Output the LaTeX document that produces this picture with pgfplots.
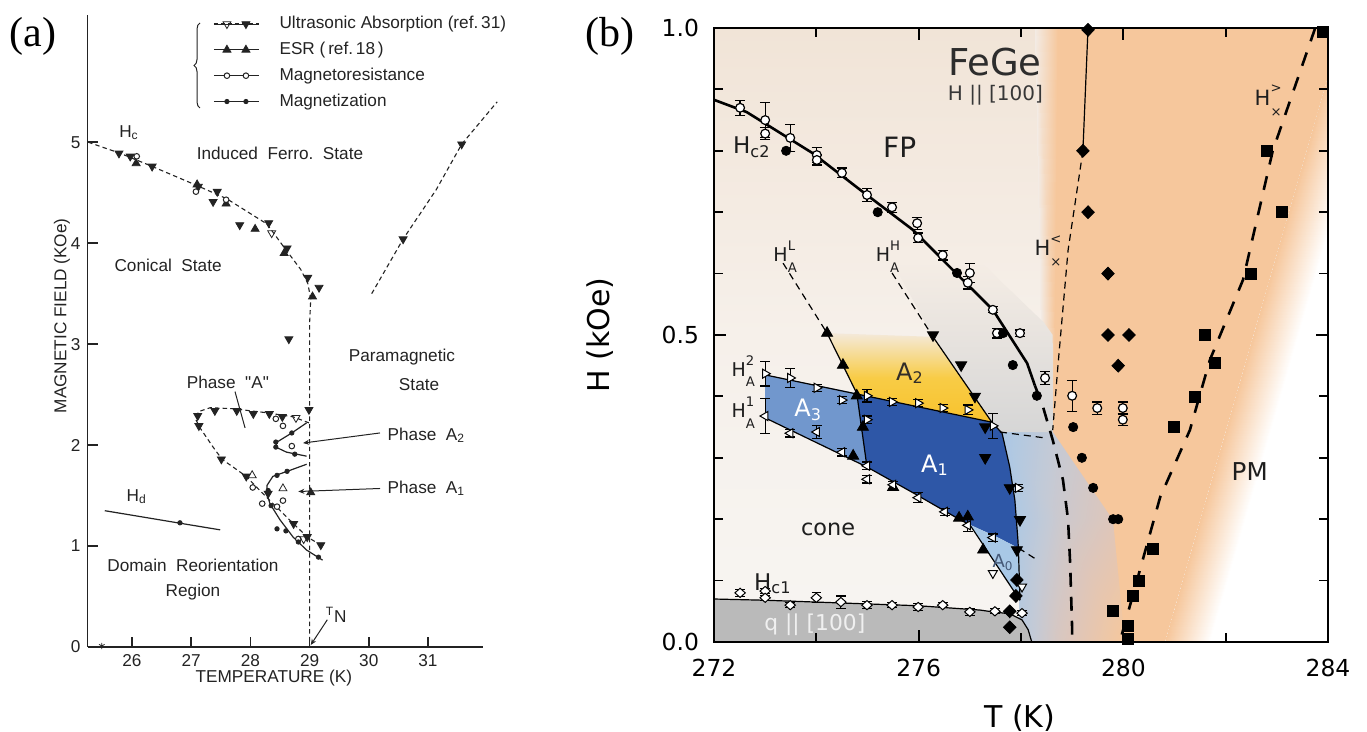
\documentclass[border=0pt]{standalone}
\usepackage{fontspec}
\setmainfont{Liberation Serif}
\newfontfamily\djv{DejaVu Sans}
\newfontfamily\hvf{Liberation Sans}
\usepackage{pgfplots}
\pgfplotsset{compat=1.18}
\usetikzlibrary{decorations.pathreplacing,arrows.meta}
\definecolor{bgtop}{RGB}{241,228,215}
\definecolor{bgmid}{RGB}{246,240,234}
\definecolor{bgbot}{RGB}{247,245,242}
\definecolor{orng}{RGB}{246,199,156}
\definecolor{aTHREE}{RGB}{113,151,205}
\definecolor{aONE}{RGB}{46,87,167}
\definecolor{aZERO}{RGB}{168,200,230}
\definecolor{ayel}{RGB}{248,194,44}
\definecolor{ayelmid}{RGB}{248,204,70}
\definecolor{ayeltop}{RGB}{244,233,218}
\definecolor{qgray}{RGB}{186,186,186}
\definecolor{graytop}{RGB}{245,237,229}
\definecolor{graybot}{RGB}{214,214,214}
\definecolor{ink}{RGB}{35,35,35}
\definecolor{txt}{RGB}{30,30,30}
\newcommand{\HS}[2]{H\begin{tabular}{@{}l@{}}{\fontsize{6.6}{6.6}\selectfont #1}\\[-0.3pt]{\fontsize{6.6}{6.6}\selectfont #2}\end{tabular}}
\begin{document}
\begin{tikzpicture}
\path[use as bounding box] (0,0) rectangle (683.5pt,366pt);
\node[font=\fontsize{21}{24}\selectfont] at (16.5pt,348pt) {(a)};
\node[font=\fontsize{21}{24}\selectfont] at (305pt,348pt) {(b)};
\draw[ink, line width=0.5pt, decorate, decoration={brace, amplitude=3pt}] (100pt,312pt) -- (100pt,354.5pt);

% ---------------- panel (a)
\begin{axis}[
 at={(43.8pt,42.5pt)}, anchor=south west, scale only axis, width=197.7pt, height=316pt,
 xmin=25.25, xmax=31.93, ymin=0, ymax=6.26,
 axis x line*=bottom, axis y line*=left,
 xtick={26,27,28,29,30,31}, ytick={0,1,2,3,4,5},
 tick align=inside, major tick length=5pt,
 axis line style={line width=0.8pt, ink}, every tick/.style={line width=0.8pt, ink},
 tick label style={font=\hvf\fontsize{8.6}{10}\selectfont, /pgf/number format/assume math mode=true, text=ink},
 clip=false,
 xlabel={TEMPERATURE (K)}, ylabel={MAGNETIC FIELD (KOe)},
 label style={font=\hvf\fontsize{8.6}{10}\selectfont, text=ink},
 xlabel style={at={(axis description cs:0.471,-0.049)}, anchor=center},
 ylabel style={at={(axis description cs:-0.065,0.524)}, anchor=center},
 legend style={at={(axis description cs:0.317,1.005)}, anchor=north west, draw=none, fill=none, inner sep=0pt,
   font=\hvf\fontsize{8.6}{10}\selectfont, text=ink, row sep=1.2pt, /tikz/every odd column/.append style={column sep=8pt}},
 legend cell align=left,
]
% H_c dashed
\addplot[ink, line width=0.55pt, dash pattern=on 2.2pt off 1.6pt, forget plot] coordinates {(25.26,5.0) (25.8,4.89) (26.3,4.77) (27.1,4.57) (27.6,4.44) (28.28,4.19) (28.58,3.95) (28.85,3.74) (28.97,3.6) (29.02,3.45) (29.0,3.2) (29.0,0)};
% upper right dashed
\addplot[ink, line width=0.55pt, dash pattern=on 2.2pt off 1.6pt, forget plot] coordinates {(30.05,3.50) (30.58,4.04) (31.14,4.53) (31.57,4.98) (32.17,5.40)};
% phase A loop
\addplot[ink, line width=0.55pt, dash pattern=on 2.2pt off 1.6pt, forget plot] coordinates {(28.99,2.22) (28.72,2.28) (28.28,2.32) (27.71,2.36) (27.32,2.37) (27.12,2.33) (27.08,2.25) (27.15,2.17) (27.37,1.98) (27.52,1.86) (27.93,1.69) (28.21,1.52) (28.73,1.22) (28.96,1.09) (29.19,1.01)};
% A2, A1, Hd solid
\addplot[ink, line width=0.6pt, forget plot] coordinates {(28.95,2.22) (28.70,2.12) (28.45,2.03) (28.43,1.98) (28.61,1.93) (28.95,1.89)};
\addplot[ink, line width=0.6pt, forget plot] coordinates {(28.95,1.81) (28.67,1.75) (28.38,1.69) (28.28,1.60) (28.28,1.52) (28.33,1.42) (28.50,1.26) (28.72,1.09) (28.95,0.96) (29.22,0.86)};
\addplot[ink, line width=0.6pt, forget plot] coordinates {(25.54,1.35) (27.49,1.16)};
% markers with legend
\addplot[only marks, ink, mark=triangle*, mark size=2.3pt, mark options={rotate=180, fill=ink},
 legend image code/.code={\path (0pt,0pt) -- (22.5pt,0pt);
 \draw[ink, line width=0.5pt, dash pattern=on 2pt off 1.5pt] (0pt,0pt)--(22.5pt,0pt);
 \draw[ink, only marks, mark=triangle, mark size=2.3pt, mark options={rotate=180, fill=white, solid}] plot coordinates {(6.5pt,0pt)};
 \draw[ink, only marks, mark=triangle*, mark size=2.3pt, mark options={rotate=180, fill=ink, solid}] plot coordinates {(16pt,0pt)};}]
 coordinates {(25.78,4.89) (25.97,4.86) (26.34,4.76) (27.12,4.56) (27.44,4.51) (27.37,4.41) (27.82,4.18) (28.31,4.20) (28.62,3.95) (28.97,3.66) (29.16,3.56) (28.65,3.05) (30.58,4.04) (31.57,4.98) (27.11,2.29) (27.13,2.19) (27.40,2.34) (27.77,2.34) (28.05,2.31) (28.32,2.31) (28.54,2.28) (28.99,2.35) (27.51,1.86) (27.93,1.69) (28.73,1.22) (28.96,1.09) (29.19,1.01) (28.30,1.52)};
\addlegendentry{Ultrasonic Absorption (ref.\,31)}
\addplot[only marks, ink, mark=triangle*, mark size=2.3pt, mark options={fill=ink},
 legend image code/.code={\path (0pt,0pt) -- (22.5pt,0pt); \draw[ink, only marks, mark=triangle*, mark size=2.3pt, mark options={fill=ink}] plot coordinates {(6.5pt,0pt) (16pt,0pt)};}]
 coordinates {(26.07,4.79) (27.1,4.58) (27.59,4.39) (28.08,4.14) (28.57,3.90) (29.05,3.47) (29.02,1.53)};
\addlegendentry{ESR\ (\,ref.\,18\,)}
\addplot[only marks, ink, mark=*, mark size=1.4pt, mark options={fill=white, line width=0.5pt},
 legend image code/.code={\path (0pt,0pt) -- (22.5pt,0pt); \draw[ink, only marks, mark=*, mark size=1.4pt, mark options={fill=white, line width=0.5pt}] plot coordinates {(6.5pt,0pt) (16pt,0pt)};}]
 coordinates {(26.08,4.86) (27.08,4.51) (27.59,4.43) (28.43,2.26) (28.55,2.19) (28.70,1.99) (28.04,1.58) (28.55,1.45) (28.20,1.42) (28.45,1.39) (28.81,1.07)};
\addlegendentry{Magnetoresistance}
\addplot[only marks, ink, mark=*, mark size=1.1pt, mark options={fill=ink},
 legend image code/.code={\draw[ink, line width=0.6pt] (0pt,0pt)--(22.5pt,0pt); \draw[ink, only marks, mark=*, mark size=1.1pt, mark options={fill=ink}] plot coordinates {(6.5pt,0pt) (16pt,0pt)};}]
 coordinates {(28.70,2.12) (28.43,2.03) (28.43,1.98) (28.75,1.91) (28.62,1.74) (28.45,1.70) (28.30,1.55) (28.35,1.40) (28.45,1.17) (28.6,1.15) (28.81,1.04) (29.15,0.89) (26.81,1.23)};
\addlegendentry{Magnetization}
% extra open symbols
\addplot[only marks, ink, mark=triangle, mark size=2.3pt, mark options={rotate=180, fill=white}, forget plot] coordinates {(28.77,2.27) (28.36,4.10) (28.9,1.07)};
\addplot[only marks, ink, mark=triangle, mark size=2.3pt, mark options={fill=white}, forget plot] coordinates {(28.03,1.70) (28.55,1.57)};
\addplot[only marks, ink, mark=asterisk, mark size=1.6pt, forget plot] coordinates {(25.49,0.01)};
% annotations
\draw[ink, line width=0.5pt] (axis cs:27.74,2.53) -- (axis cs:27.91,2.17);
\draw[ink, line width=0.5pt, -{Stealth[length=3pt,width=2.5pt]}] (axis cs:30.19,2.12) -- (axis cs:28.89,2.02);
\draw[ink, line width=0.5pt, -{Stealth[length=3pt,width=2.5pt]}] (axis cs:30.19,1.57) -- (axis cs:28.81,1.54);
\draw[ink, line width=0.5pt, -{Stealth[length=3pt,width=2.5pt]}] (axis cs:29.30,0.27) -- (axis cs:29.02,0.02);
\begin{scope}[every node/.style={font=\hvf\fontsize{8.6}{10}\selectfont, text=ink}]
\node at (axis cs:25.95,5.09) {H\textsubscript{c}};
\node at (axis cs:28.50,4.89) {Induced\ \ Ferro.\ \ State};
\node at (axis cs:26.61,3.78) {Conical\ \ State};
\node at (axis cs:30.56,2.87) {Paramagnetic};
\node at (axis cs:30.85,2.60) {State};
\node at (axis cs:27.62,2.62) {Phase\ \ "A"};
\node[anchor=west] at (axis cs:30.2,2.10) {Phase\ \ A\textsubscript{2}};
\node[anchor=west] at (axis cs:30.2,1.57) {Phase\ \ A\textsubscript{1}};
\node at (axis cs:26.08,1.49) {H\textsubscript{d}};
\node at (axis cs:27.03,0.81) {Domain\ \ Reorientation};
\node at (axis cs:27.03,0.54) {Region};
\node at (axis cs:29.45,0.32) {\textsuperscript{T}N};
\end{scope}
\end{axis}

% ---------------- panel (b)
\begin{axis}[
 at={(357pt,45pt)}, anchor=south west, scale only axis, width=307pt, height=307pt,
 xmin=272, xmax=284, ymin=0, ymax=1,
 xtick={272,276,280,284}, minor xtick={274,278,282},
 ytick={0,0.5,1}, minor ytick={0.1,0.2,0.3,0.4,0.6,0.7,0.8,0.9},
 tick align=inside, major tick length=6pt, minor tick length=4.5pt,
 axis line style={line width=1pt}, every tick/.style={line width=0.9pt, black},
 tick label style={font=\djv\fontsize{11.7}{13}\selectfont, /pgf/number format/assume math mode=true},
 xticklabel style={yshift=-5pt},
 yticklabel style={xshift=-4pt, /pgf/number format/.cd, fixed, fixed zerofill, precision=1},
 xlabel={T (K)}, ylabel={H (kOe)},
 label style={font=\djv\fontsize{15}{17}\selectfont},
 xlabel style={at={(axis description cs:0.498,-0.124)}, anchor=center},
 ylabel style={at={(axis description cs:-0.186,0.5)}, anchor=center},
 point meta min=0, point meta max=4,
 axis on top,
 axis background/.style={shade, top color=bgtop, bottom color=bgbot, middle color=bgmid},
]
% background patches
\addplot[patch, shader=interp, point meta=explicit,
 colormap={bgm}{rgb255=(170,200,230) rgb255=(196,202,214) rgb255=(222,198,186) rgb255=(246,199,156) rgb255=(255,255,255)}]
 table[x=x, y=y, meta=c] {
x y c
277.589 0.342 0
278.625 0.342 1
278.762 0.199 1.3
277.589 0.342 0
278.762 0.199 1.3
277.90 0.199 0.2
278.625 0.342 1
279.798 0.199 2
278.762 0.199 1.3
277.90 0.199 0.2
278.762 0.199 1.3
278.762 0.0 1.8
277.90 0.199 0.2
278.762 0.0 1.8
277.98 0.0 0.6
278.762 0.199 1.3
279.798 0.199 2
280.032 0.0 3
278.762 0.199 1.3
280.032 0.0 3
278.762 0.0 1.8
280.814 0.0 3
281.693 0.0 4
285.152 1.0 4
280.814 0.0 3
285.152 1.0 4
284.273 1.0 3
};
\addplot[patch, shader=interp, point meta=explicit,
 colormap={bgo}{rgb255=(243,235,228) rgb255=(246,199,156)}]
 table[x=x, y=y, meta=c] {
x y c
278.27 1.0 0
278.72 1.0 4
278.66 0.5 4
278.27 1.0 0
278.66 0.5 4
278.40 0.5 0
278.40 0.5 0
278.66 0.5 4
278.625 0.342 4
278.40 0.5 0
278.625 0.342 4
278.50 0.342 0
};
\addplot[fill=white, draw=none] coordinates {(281.693,0) (286,0) (286,1) (285.152,1)} -- cycle;
\addplot[fill=orng, draw=none] coordinates {(278.72,1) (284.273,1) (280.814,0) (280.032,0) (279.798,0.199) (278.625,0.342) (278.66,0.5)} -- cycle;
\addplot[draw=none, top color=graytop, bottom color=graybot] coordinates {(276.28,0.497) (275.48,0.62) (277.2,0.62) (278.45,0.52) (278.62,0.5) (278.625,0.342) (277.59,0.342) (277.43,0.358)} -- cycle;
% q || [100] region
\addplot[fill=qgray, draw=none] coordinates {(272,0) (272,0.070) (273.0,0.068) (276.0,0.059) (277.2,0.052) (277.45,0.049) (277.78,0.046) (278.02,0.036) (278.14,0.020) (278.21,0.0)} -- cycle;
% A phases
\addplot[fill=aTHREE, draw=none] coordinates {(273.0,0.435) (274.79,0.405) (274.99,0.285) (273.0,0.365)} -- cycle;
\addplot[fill=aONE, draw=none] coordinates {(274.79,0.405) (277.43,0.358) (277.63,0.340) (277.78,0.285) (277.88,0.231) (277.94,0.166) (277.95,0.153) (277.53,0.171) (277.0,0.191) (276.81,0.199) (275.89,0.243) (274.99,0.285)} -- cycle;
\addplot[fill=aZERO, draw=none] coordinates {(277.0,0.191) (277.53,0.171) (277.95,0.153) (277.98,0.068)} -- cycle;
\addplot[draw=none, top color=ayeltop, bottom color=ayel, middle color=ayelmid] coordinates {(274.21,0.503) (276.28,0.497) (277.43,0.358) (274.79,0.405)} -- cycle;
% lines
\addplot[black, line width=1.3pt] coordinates {(272.0,0.883) (272.64,0.863) (273.93,0.796) (274.91,0.733) (275.89,0.671) (276.81,0.594) (277.45,0.541) (278.12,0.454) (278.27,0.418)};
\addplot[black, line width=1.3pt, dash pattern=on 7pt off 5pt] coordinates {(278.27,0.418) (278.43,0.383) (278.62,0.329) (278.82,0.264) (278.92,0.199) (278.96,0.129) (279.0,0.02) (279.0,0.0)};
\addplot[black, line width=0.6pt] coordinates {(279.31,1.0) (279.21,0.80)};
\addplot[black, line width=0.6pt, dash pattern=on 3.5pt off 2.5pt] coordinates {(279.21,0.80) (278.92,0.638) (278.72,0.448) (278.62,0.345)};
\addplot[black, line width=1.3pt, dash pattern=on 7pt off 6pt] coordinates {(283.75,1.0) (282.92,0.80) (282.34,0.59) (281.69,0.459) (281.30,0.345) (280.72,0.236) (280.27,0.101) (279.93,0.0)};
\addplot[black, line width=0.6pt, dash pattern=on 3.5pt off 2.5pt] coordinates {(273.35,0.617) (274.21,0.503)};
\addplot[black, line width=0.6pt] coordinates {(274.21,0.503) (274.79,0.405) (274.99,0.285)};
\addplot[black, line width=0.6pt, dash pattern=on 3.5pt off 2.5pt] coordinates {(275.48,0.601) (276.28,0.497)};
\addplot[black, line width=0.6pt] coordinates {(276.28,0.497) (277.43,0.358) (277.63,0.340) (277.78,0.285) (277.88,0.231) (277.94,0.166) (277.95,0.150) (277.98,0.068)};
\addplot[black, line width=0.6pt] coordinates {(273.0,0.435) (277.43,0.358)};
\addplot[black, line width=0.6pt] coordinates {(273.0,0.365) (274.99,0.285) (275.89,0.243) (276.81,0.199) (277.0,0.191) (277.98,0.068)};
\addplot[black, line width=0.6pt, dash pattern=on 3.5pt off 2.5pt] coordinates {(277.59,0.342) (278.5,0.332)};
\addplot[black, line width=0.6pt, dash pattern=on 3.5pt off 2.5pt] coordinates {(277.95,0.153) (278.31,0.134)};
\addplot[black, line width=0.6pt] coordinates {(272.0,0.070) (273.0,0.068) (276.0,0.059) (277.2,0.052) (277.45,0.049) (277.78,0.046) (278.02,0.036) (278.14,0.020) (278.21,0.0)};
% markers
\addplot[only marks, mark=*, mark size=2.2pt, mark options={fill=white, draw=black, line width=0.6pt},
 error bars/.cd, y dir=both, y explicit, error bar style={line width=0.6pt, black}, error mark options={rotate=90, mark size=2.6pt, line width=0.6pt, black}]
 table[x=T, y=H, y error=e] {
T H e
272.51 0.870 0.012
273.0 0.850 0.028
273.0 0.828 0.01
273.49 0.821 0.022
274.01 0.793 0.012
274.01 0.785 0.008
274.5 0.764 0.008
274.99 0.728 0.01
275.48 0.708 0.008
275.97 0.682 0.01
275.99 0.658 0.008
276.47 0.630 0.008
277.0 0.601 0.015
276.96 0.585 0.01
277.45 0.541 0.005
277.53 0.503 0.008
277.98 0.503 0.005
278.47 0.430 0.01
279.0 0.401 0.025
279.49 0.381 0.01
279.99 0.381 0.01
279.99 0.362 0.01
};
\addplot[only marks, mark=*, mark size=2.3pt, black] coordinates {(273.41,0.800) (275.2,0.700) (276.75,0.601) (277.65,0.503) (277.84,0.451) (278.31,0.401) (279.02,0.350) (279.19,0.300) (279.41,0.251) (279.80,0.200) (279.9,0.200)};
\addplot[only marks, mark=diamond*, mark size=3.2pt, mark options={xscale=1.3}, black] coordinates {(279.31,0.997) (279.21,0.800) (279.31,0.700) (279.70,0.600) (279.70,0.500) (280.11,0.500) (279.90,0.450) (277.92,0.101) (277.90,0.075) (277.78,0.050) (277.78,0.024)};
\addplot[only marks, mark=square*, mark size=2.8pt, black] coordinates {(283.9,0.993) (282.81,0.800) (283.1,0.700) (282.49,0.600) (281.6,0.500) (281.79,0.454) (281.4,0.399) (280.99,0.350) (280.58,0.151) (280.31,0.099) (280.19,0.075) (279.8,0.050) (280.09,0.026) (280.09,0.005)};
\addplot[only marks, mark=triangle*, mark size=3.2pt, black] coordinates {(274.21,0.503) (274.52,0.451) (274.79,0.401) (274.91,0.350) (274.72,0.303) (275.5,0.252) (276.79,0.202) (276.96,0.204) (277.26,0.150)};
\addplot[only marks, mark=triangle*, mark size=3.2pt, mark options={rotate=180}, black] coordinates {(276.28,0.500) (276.83,0.451) (277.1,0.400) (277.3,0.350) (277.3,0.300) (277.78,0.251) (277.98,0.199) (277.92,0.150)};
\addplot[only marks, mark=triangle*, mark size=2.6pt, mark options={rotate=-90, fill=white, draw=black, line width=0.5pt},
 error bars/.cd, y dir=both, y explicit, error bar style={line width=0.6pt, black}, error mark options={rotate=90, mark size=2.4pt, line width=0.6pt, black}]
 table[x=T, y=H, y error=e] {
T H e
273.0 0.437 0.02
273.49 0.430 0.015
274.01 0.414 0.006
274.50 0.394 0.006
274.99 0.401 0.01
274.99 0.362 0.006
275.48 0.391 0.006
275.99 0.389 0.006
276.47 0.381 0.006
276.96 0.378 0.008
277.45 0.352 0.02
277.94 0.251 0.006
};
\addplot[only marks, mark=triangle*, mark size=2.6pt, mark options={rotate=90, fill=white, draw=black, line width=0.5pt},
 error bars/.cd, y dir=both, y explicit, error bar style={line width=0.6pt, black}, error mark options={rotate=90, mark size=2.4pt, line width=0.6pt, black}]
 table[x=T, y=H, y error=e] {
T H e
273.0 0.368 0.028
273.49 0.340 0.006
274.01 0.342 0.01
274.50 0.309 0.006
274.99 0.287 0.006
274.99 0.265 0.006
275.50 0.256 0.006
275.99 0.235 0.008
276.51 0.212 0.006
276.96 0.190 0.01
277.45 0.170 0.006
};
\addplot[only marks, mark=triangle*, mark size=2.6pt, mark options={rotate=180, fill=white, draw=black, line width=0.5pt}] coordinates {(277.45,0.112) (278.02,0.090)};
\addplot[only marks, mark=diamond*, mark size=2.3pt, mark options={xscale=1.5, fill=white, draw=black, line width=0.5pt},
 error bars/.cd, y dir=both, y explicit, error bar style={line width=0.6pt, black}, error mark options={rotate=90, mark size=2.4pt, line width=0.6pt, black}]
 table[x=T, y=H, y error=e] {
T H e
272.51 0.080 0.006
273.0 0.083 0.004
273.0 0.072 0.004
273.49 0.060 0.004
274.0 0.072 0.008
274.48 0.065 0.01
274.99 0.060 0.006
275.48 0.060 0.004
275.99 0.057 0.006
276.47 0.060 0.004
277.0 0.049 0.006
277.49 0.050 0.004
278.02 0.047 0.004
};
% texts
\begin{scope}[every node/.style={font=\djv, text=txt}]
\node[font=\djv\fontsize{18.5}{20}\selectfont, text={rgb,255:red,45;green,45;blue,45}] at (axis cs:277.49,0.945) {FeGe};
\node[font=\djv\fontsize{10}{12}\selectfont, text={rgb,255:red,55;green,55;blue,55}] at (axis cs:277.5,0.891) {H || [100]};
\node[font=\djv\fontsize{14}{16}\selectfont] at (axis cs:275.63,0.806) {FP};
\node[font=\djv\fontsize{11.5}{13}\selectfont] at (axis cs:272.74,0.806) {H\textsubscript{c2}};
\node[font=\djv\fontsize{9.5}{11}\selectfont] at (axis cs:273.39,0.627) {\HS{L}{A}};
\node[font=\djv\fontsize{9.5}{11}\selectfont] at (axis cs:275.40,0.627) {\HS{H}{A}};
\node[font=\djv\fontsize{10.5}{12}\selectfont] at (axis cs:278.53,0.638) {\HS{<}{×}};
\node[font=\djv\fontsize{10.5}{12}\selectfont] at (axis cs:282.83,0.883) {\HS{>}{×}};
\node[font=\djv\fontsize{9.5}{11}\selectfont] at (axis cs:272.57,0.440) {\HS{2}{A}};
\node[font=\djv\fontsize{9.5}{11}\selectfont] at (axis cs:272.57,0.373) {\HS{1}{A}};
\node[font=\djv\fontsize{12}{14}\selectfont, text=white] at (axis cs:273.84,0.378) {A\textsubscript{3}};
\node[font=\djv\fontsize{12}{14}\selectfont, text=white] at (axis cs:276.32,0.288) {A\textsubscript{1}};
\node[font=\djv\fontsize{12}{14}\selectfont, text={rgb,255:red,50;green,45;blue,40}] at (axis cs:275.83,0.438) {A\textsubscript{2}};
\node[font=\djv\fontsize{9}{11}\selectfont, text={rgb,255:red,70;green,90;blue,120}] at (axis cs:277.65,0.130) {A\textsubscript{0}};
\node[font=\djv\fontsize{11.2}{13}\selectfont] at (axis cs:274.23,0.184) {cone};
\node[font=\djv\fontsize{11.5}{13}\selectfont] at (axis cs:273.15,0.095) {H\textsubscript{c1}};
\node[font=\djv\fontsize{10.9}{12}\selectfont, text={rgb,255:red,240;green,240;blue,240}] at (axis cs:273.97,0.028) {q || [100]};
\node[font=\djv\fontsize{12.3}{14}\selectfont] at (axis cs:282.47,0.277) {PM};
\end{scope}
\end{axis}
\end{tikzpicture}
\end{document}
